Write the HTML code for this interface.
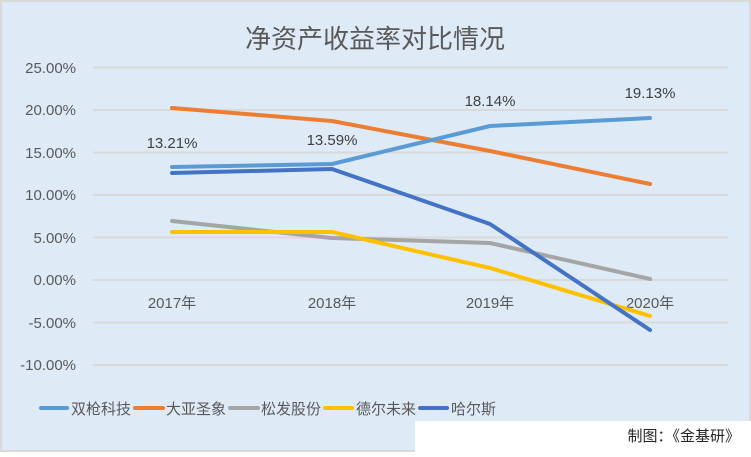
<!DOCTYPE html>
<html><head><meta charset="utf-8"><style>
html,body{margin:0;padding:0;background:#fff}
body{width:751px;height:452px;overflow:hidden}
svg text{font-family:"Liberation Sans","Noto Sans CJK SC",sans-serif}
</style></head><body>
<svg width="751" height="452" xmlns="http://www.w3.org/2000/svg">
<rect x="1" y="1" width="749" height="450" fill="#deebf7" stroke="#d9d9d9" stroke-width="2"/>
<text x="375" y="48" font-size="26" fill="#595959" text-anchor="middle">净资产收益率对比情况</text>
<g stroke="#d9d9d9" stroke-width="2">
<line x1="93" x2="728" y1="67.5" y2="67.5"/>
<line x1="93" x2="728" y1="110" y2="110"/>
<line x1="93" x2="728" y1="152.5" y2="152.5"/>
<line x1="93" x2="728" y1="195" y2="195"/>
<line x1="93" x2="728" y1="237.5" y2="237.5"/>
<line x1="93" x2="728" y1="280" y2="280"/>
<line x1="93" x2="728" y1="322.5" y2="322.5"/>
<line x1="93" x2="728" y1="365" y2="365"/>
</g>
<g font-size="15" fill="#595959" text-anchor="end">
<text x="76" y="73">25.00%</text>
<text x="76" y="115">20.00%</text>
<text x="76" y="158">15.00%</text>
<text x="76" y="200">10.00%</text>
<text x="76" y="243">5.00%</text>
<text x="76" y="285">0.00%</text>
<text x="76" y="328">-5.00%</text>
<text x="76" y="370">-10.00%</text>
</g>
<g font-size="15" fill="#595959" text-anchor="middle">
<text x="172" y="308">2017年</text>
<text x="332" y="308">2018年</text>
<text x="490" y="308">2019年</text>
<text x="650" y="308">2020年</text>
</g>
<g fill="none" stroke-width="4" stroke-linecap="round" stroke-linejoin="round">
<polyline stroke="#a5a5a5" points="172,221 332,238 490,243 650,279"/>
<polyline stroke="#ffc000" points="172,232 332,232 490,268 650,316"/>
<polyline stroke="#ed7d31" points="172,108 332,121 490,151 650,184"/>
<polyline stroke="#4472c4" points="172,173 332,169 490,224 650,330"/>
<polyline stroke="#5b9bd5" points="172,167 332,164 490,126 650,118"/>
</g>
<g font-size="15" fill="#404040" text-anchor="middle">
<text x="172" y="148">13.21%</text>
<text x="332" y="145">13.59%</text>
<text x="490" y="106">18.14%</text>
<text x="650" y="98">19.13%</text>
</g>
<g stroke-width="4" stroke-linecap="round">
<line x1="41" x2="67" y1="408" y2="408" stroke="#5b9bd5"/>
<line x1="135" x2="163" y1="408" y2="408" stroke="#ed7d31"/>
<line x1="230" x2="258" y1="408" y2="408" stroke="#a5a5a5"/>
<line x1="325" x2="352" y1="408" y2="408" stroke="#ffc000"/>
<line x1="420" x2="447" y1="408" y2="408" stroke="#4472c4"/>
</g>
<g font-size="15" fill="#595959">
<text x="71" y="414">双枪科技</text>
<text x="166" y="414">大亚圣象</text>
<text x="261" y="414">松发股份</text>
<text x="356" y="414">德尔未来</text>
<text x="451" y="414">哈尔斯</text>
</g>
<rect x="415" y="421" width="336" height="31" fill="#ffffff"/>
<text x="740" y="441" font-size="15" fill="#262626" text-anchor="end">制图：《金基研》</text>
</svg>
</body></html>
